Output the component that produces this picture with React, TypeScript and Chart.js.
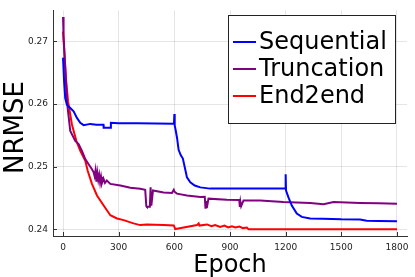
import React, { useEffect, useRef } from "react";
import { Chart, registerables } from "chart.js";

Chart.register(...registerables);

// ---- data ----
const xTicks = [0, 300, 600, 900, 1200, 1500, 1800];
const yTicks = [0.24, 0.25, 0.26, 0.27];

const seqEpochs = [0, 6, 12, 21, 39, 57, 75, 93, 111, 147, 180, 218, 219, 257, 258, 300, 400, 500, 598, 600, 602, 608, 615, 623, 635, 646, 660, 668, 686, 710, 740, 793, 900, 1000, 1100, 1198, 1200, 1202, 1215, 1233, 1260, 1287, 1332, 1400, 1500, 1601, 1637, 1700, 1800];
const seqNRMSE = [0.2674, 0.2635, 0.2609, 0.2599, 0.25936, 0.25884, 0.25778, 0.257, 0.25663, 0.25683, 0.25668, 0.25668, 0.2562, 0.2562, 0.257, 0.25695, 0.25692, 0.2569, 0.25685, 0.2584, 0.2566, 0.2557, 0.2545, 0.2527, 0.2518, 0.2513, 0.2494, 0.2483, 0.2475, 0.247, 0.2467, 0.2465, 0.2465, 0.2465, 0.2465, 0.2465, 0.2488, 0.2462, 0.2451, 0.2438, 0.24253, 0.24199, 0.24174, 0.2417, 0.2416, 0.24158, 0.24136, 0.24134, 0.2413];

const truncEpochs = [0, 3, 12, 21, 39, 66, 84, 102, 120, 138, 156, 165, 170, 175, 180, 185, 190, 195, 200, 205, 210, 218, 226, 236, 255, 309, 363, 416, 443, 449, 452, 468, 472, 476, 485, 542, 587, 597, 601, 614, 668, 740, 764, 768, 771, 775, 784, 883, 950, 953, 956, 960, 973, 1063, 1188, 1332, 1404, 1458, 1601, 1700, 1800];
const truncNRMSE = [0.2739, 0.2709, 0.2657, 0.2604, 0.2557, 0.2541, 0.2536, 0.2525, 0.2512, 0.2504, 0.2496, 0.2491, 0.2485, 0.2494, 0.2476, 0.249, 0.2479, 0.2487, 0.2475, 0.2484, 0.2474, 0.2481, 0.2474, 0.2478, 0.24726, 0.24699, 0.24663, 0.24647, 0.2463, 0.2437, 0.2436, 0.2436, 0.2467, 0.2438, 0.2462, 0.2459, 0.2458, 0.24632, 0.246, 0.2457, 0.24541, 0.24515, 0.2452, 0.2433, 0.2445, 0.2434, 0.2449, 0.24474, 0.2447, 0.24357, 0.2444, 0.2437, 0.24462, 0.24462, 0.24436, 0.2442, 0.244, 0.24436, 0.2442, 0.24415, 0.2441];

const e2eEpochs = [0, 7, 16, 27, 48, 72, 93, 120, 133, 156, 183, 219, 255, 291, 327, 380, 416, 452, 542, 597, 605, 614, 722, 731, 735, 776, 800, 820, 847, 870, 890, 910, 930, 950, 970, 991, 1000, 1100, 1300, 1500, 1800];
const e2eNRMSE = [0.27158, 0.2683, 0.2641, 0.26041, 0.25674, 0.2541, 0.25252, 0.25094, 0.24936, 0.24726, 0.24541, 0.2438, 0.24226, 0.24174, 0.24147, 0.24095, 0.24068, 0.24079, 0.24068, 0.24063, 0.24005, 0.2401, 0.24068, 0.24095, 0.2406, 0.24079, 0.2405, 0.2407, 0.2404, 0.2406, 0.2403, 0.2405, 0.2403, 0.24045, 0.2402, 0.2403, 0.24, 0.24, 0.24, 0.24, 0.24];

const seriesNames = ["Sequential", "Truncation", "End2end"];
const seriesColors = ["#0000ff", "#800080", "#ff0000"];

const FONT = "'DejaVu Sans', sans-serif";

const toPoints = (xs: number[], ys: number[]) => xs.map((x, i) => ({ x, y: ys[i] }));

const decorPlugin = {
  id: "decor",
  afterDraw(chart: any) {
    const ctx = chart.ctx as CanvasRenderingContext2D;
    const area = chart.chartArea;
    const xs = chart.scales.x;
    const ys = chart.scales.y;
    ctx.save();
    // inward tick marks
    ctx.strokeStyle = "#333";
    ctx.lineWidth = 1;
    ctx.beginPath();
    xTicks.forEach((t) => {
      const px = Math.round(xs.getPixelForValue(t)) + 0.5;
      ctx.moveTo(px, area.bottom);
      ctx.lineTo(px, area.bottom - 4);
    });
    yTicks.forEach((t) => {
      const py = Math.round(ys.getPixelForValue(t)) + 0.5;
      ctx.moveTo(area.left, py);
      ctx.lineTo(area.left + 4, py);
    });
    ctx.stroke();

    // axis titles
    ctx.fillStyle = "#000";
    ctx.font = `24px ${FONT}`;
    ctx.textAlign = "center";
    ctx.textBaseline = "alphabetic";
    ctx.fillText("Epoch", (area.left + area.right) / 2, 272);
    ctx.save();
    ctx.font = `26px ${FONT}`;
    ctx.translate(22.5, 127.5);
    ctx.rotate(-Math.PI / 2);
    ctx.fillText("NRMSE", 0, 0);
    ctx.restore();

    // legend
    const lx = 228.5, ly = 15.5, lw = 167, lh = 108;
    ctx.fillStyle = "#fff";
    ctx.fillRect(lx, ly, lw, lh);
    ctx.strokeStyle = "#222";
    ctx.lineWidth = 1;
    ctx.strokeRect(lx, ly, lw, lh);
    ctx.font = `24px ${FONT}`;
    ctx.textAlign = "left";
    ctx.textBaseline = "middle";
    seriesNames.forEach((name, i) => {
      const cy = 42 + i * 27;
      ctx.strokeStyle = seriesColors[i];
      ctx.lineWidth = 2;
      ctx.beginPath();
      ctx.moveTo(233, cy);
      ctx.lineTo(256, cy);
      ctx.stroke();
      ctx.fillStyle = "#000";
      ctx.fillText(name, 259, cy + 1);
    });
    ctx.restore();
  },
};

export default function App() {
  const ref = useRef<HTMLCanvasElement | null>(null);
  useEffect(() => {
    document.body.style.margin = "0";
    const canvas = ref.current!;
    const data = [
      toPoints(seqEpochs, seqNRMSE),
      toPoints(truncEpochs, truncNRMSE),
      toPoints(e2eEpochs, e2eNRMSE),
    ];
    const chart = new Chart(canvas, {
      type: "line",
      data: {
        datasets: data.map((d, i) => ({
          label: seriesNames[i],
          data: d,
          borderColor: seriesColors[i],
          backgroundColor: seriesColors[i],
          borderWidth: 2,
          pointRadius: 0,
          tension: 0,
          fill: false,
        })),
      },
      options: {
        animation: false,
        responsive: false,
        devicePixelRatio: 1,
        layout: { padding: { left: 0, top: 8, right: 8, bottom: 0 } },
        plugins: { legend: { display: false }, tooltip: { enabled: false } },
        scales: {
          x: {
            type: "linear",
            min: -54,
            max: 1854,
            afterBuildTicks: (s: any) => {
              s.ticks = xTicks.map((v) => ({ value: v }));
            },
            afterFit: (s: any) => {
              s.height = 41;
            },
            grid: { color: "rgba(0,0,0,0.1)", drawTicks: false },
            border: { display: true, color: "#333", width: 1 },
            ticks: {
              padding: 6,
              color: "#222",
              font: { family: FONT, size: 9 },
              maxRotation: 0,
              autoSkip: false,
              callback: (v: any) => String(v),
            },
          },
          y: {
            type: "linear",
            min: 0.23894,
            max: 0.27494,
            afterBuildTicks: (s: any) => {
              s.ticks = yTicks.map((v) => ({ value: v }));
            },
            afterFit: (s: any) => {
              s.width = 53;
            },
            grid: { color: "rgba(0,0,0,0.1)", drawTicks: false },
            border: { display: true, color: "#333", width: 1 },
            ticks: {
              padding: 5,
              color: "#222",
              font: { family: FONT, size: 9 },
              autoSkip: false,
              callback: (v: any) => Number(v).toFixed(2),
            },
          },
        },
      },
      plugins: [decorPlugin],
    } as any);
    return () => chart.destroy();
  }, []);
  return (
    <div style={{ position: "absolute", left: 0, top: 0, width: 415, height: 277 }}>
      <canvas ref={ref} width={415} height={277} />
    </div>
  );
}
